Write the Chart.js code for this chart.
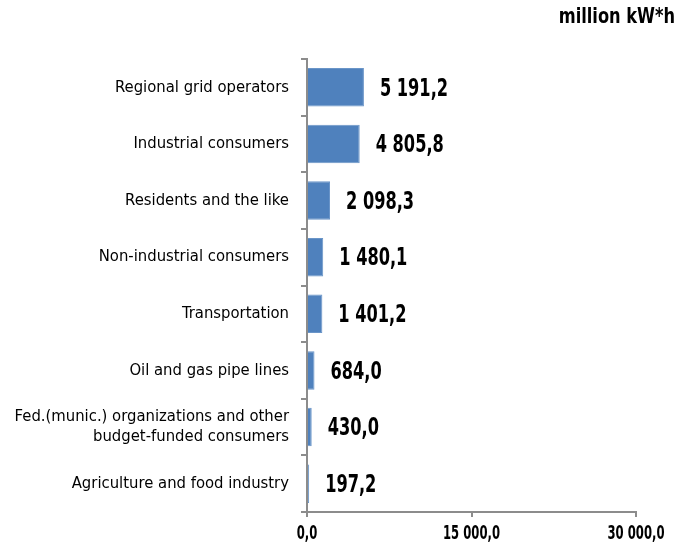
<!DOCTYPE html>
<html>
<head>
<meta charset="utf-8">
<script src="https://cdn.jsdelivr.net/npm/chart.js@4"></script>
<style>
  html, body { margin: 0; padding: 0; background: #fff; }
  #wrap { width: 680px; height: 543px; }
</style>
</head>
<body>
<div id="wrap"><canvas id="chart"></canvas></div>
<script>
// categories top to bottom
const categories = [
    'Regional grid operators',
    'Industrial consumers',
    'Residents and the like',
    'Non-industrial consumers',
    'Transportation',
    'Oil and gas pipe lines',
    ['Fed.(munic.) organizations and other', 'budget-funded consumers'],
    'Agriculture and food industry'
];
const consumption = [5191.2, 4805.8, 2098.3, 1480.1, 1401.2, 684.0, 430.0, 197.2];
const xTicks = [0, 15000, 30000];
const unitLabel = 'million kW*h';

const condensed = '"Liberation Sans Narrow", "DejaVu Sans Condensed", sans-serif';

// 5191.2 -> "5 191,2"
function fmt(v) {
    const parts = v.toFixed(1).split('.');
    return parts[0].replace(/\B(?=(\d{3})+(?!\d))/g, ' ') + ',' + parts[1];
}

// text squeezed horizontally to mimic the narrow DIN-like face of the original
function narrowText(ctx, text, x, y, squeeze, align) {
    ctx.save();
    ctx.translate(x, y);
    ctx.scale(squeeze, 1);
    ctx.textAlign = align;
    ctx.fillText(text, 0, 0);
    ctx.restore();
}

// value labels, x tick labels and the unit text
const valueLabels = {
    id: 'valueLabels',
    afterDatasetsDraw(chart) {
        const ctx = chart.ctx;
        const meta = chart.getDatasetMeta(0);
        ctx.save();
        ctx.fillStyle = '#000';
        ctx.textBaseline = 'middle';

        ctx.font = 'bold 24px ' + condensed;
        meta.data.forEach((bar, i) => {
            narrowText(ctx, fmt(consumption[i]), bar.x + 16, bar.y + 2, 0.75, 'left');
        });

        const xs = chart.scales.x;
        ctx.font = 'bold 19px ' + condensed;
        xTicks.forEach(v => {
            narrowText(ctx, fmt(v), xs.getPixelForValue(v), 534, 0.68, 'center');
        });

        ctx.font = 'bold 22px ' + condensed;
        narrowText(ctx, unitLabel, 675, 17, 0.82, 'right');
        ctx.restore();
    }
};

new Chart(document.getElementById('chart'), {
    type: 'bar',
    data: {
        labels: categories,
        datasets: [{
            data: consumption,
            backgroundColor: '#4f81bd',
            borderColor: '#6a95c8',
            borderWidth: 1,
            categoryPercentage: 0.68,
            barPercentage: 1.0
        }]
    },
    options: {
        indexAxis: 'y',
        responsive: true,
        maintainAspectRatio: false,
        animation: false,
        layout: { padding: { top: 59, right: 44, bottom: 0, left: 0 } },
        plugins: {
            legend: { display: false },
            tooltip: { enabled: false }
        },
        scales: {
            x: {
                min: 0,
                max: 30000,
                afterBuildTicks(axis) {
                    axis.ticks = xTicks.map(v => ({ value: v }));
                },
                afterFit(axis) { axis.height = 31; },
                border: { color: '#8c8c8c', width: 2 },
                grid: { drawOnChartArea: false, drawTicks: true, tickLength: 5, color: '#8c8c8c', lineWidth: 2 },
                ticks: { display: false }
            },
            y: {
                afterFit(axis) { axis.width = 307; },
                border: { color: '#8c8c8c', width: 2 },
                grid: { drawOnChartArea: false, drawTicks: true, tickLength: 6, color: '#8c8c8c', lineWidth: 2 },
                ticks: {
                    color: '#000',
                    padding: 12,
                    font: { family: condensed, size: 16.5 },
                    lineHeight: 1.3
                }
            }
        }
    },
    plugins: [valueLabels]
});
</script>
</body>
</html>
